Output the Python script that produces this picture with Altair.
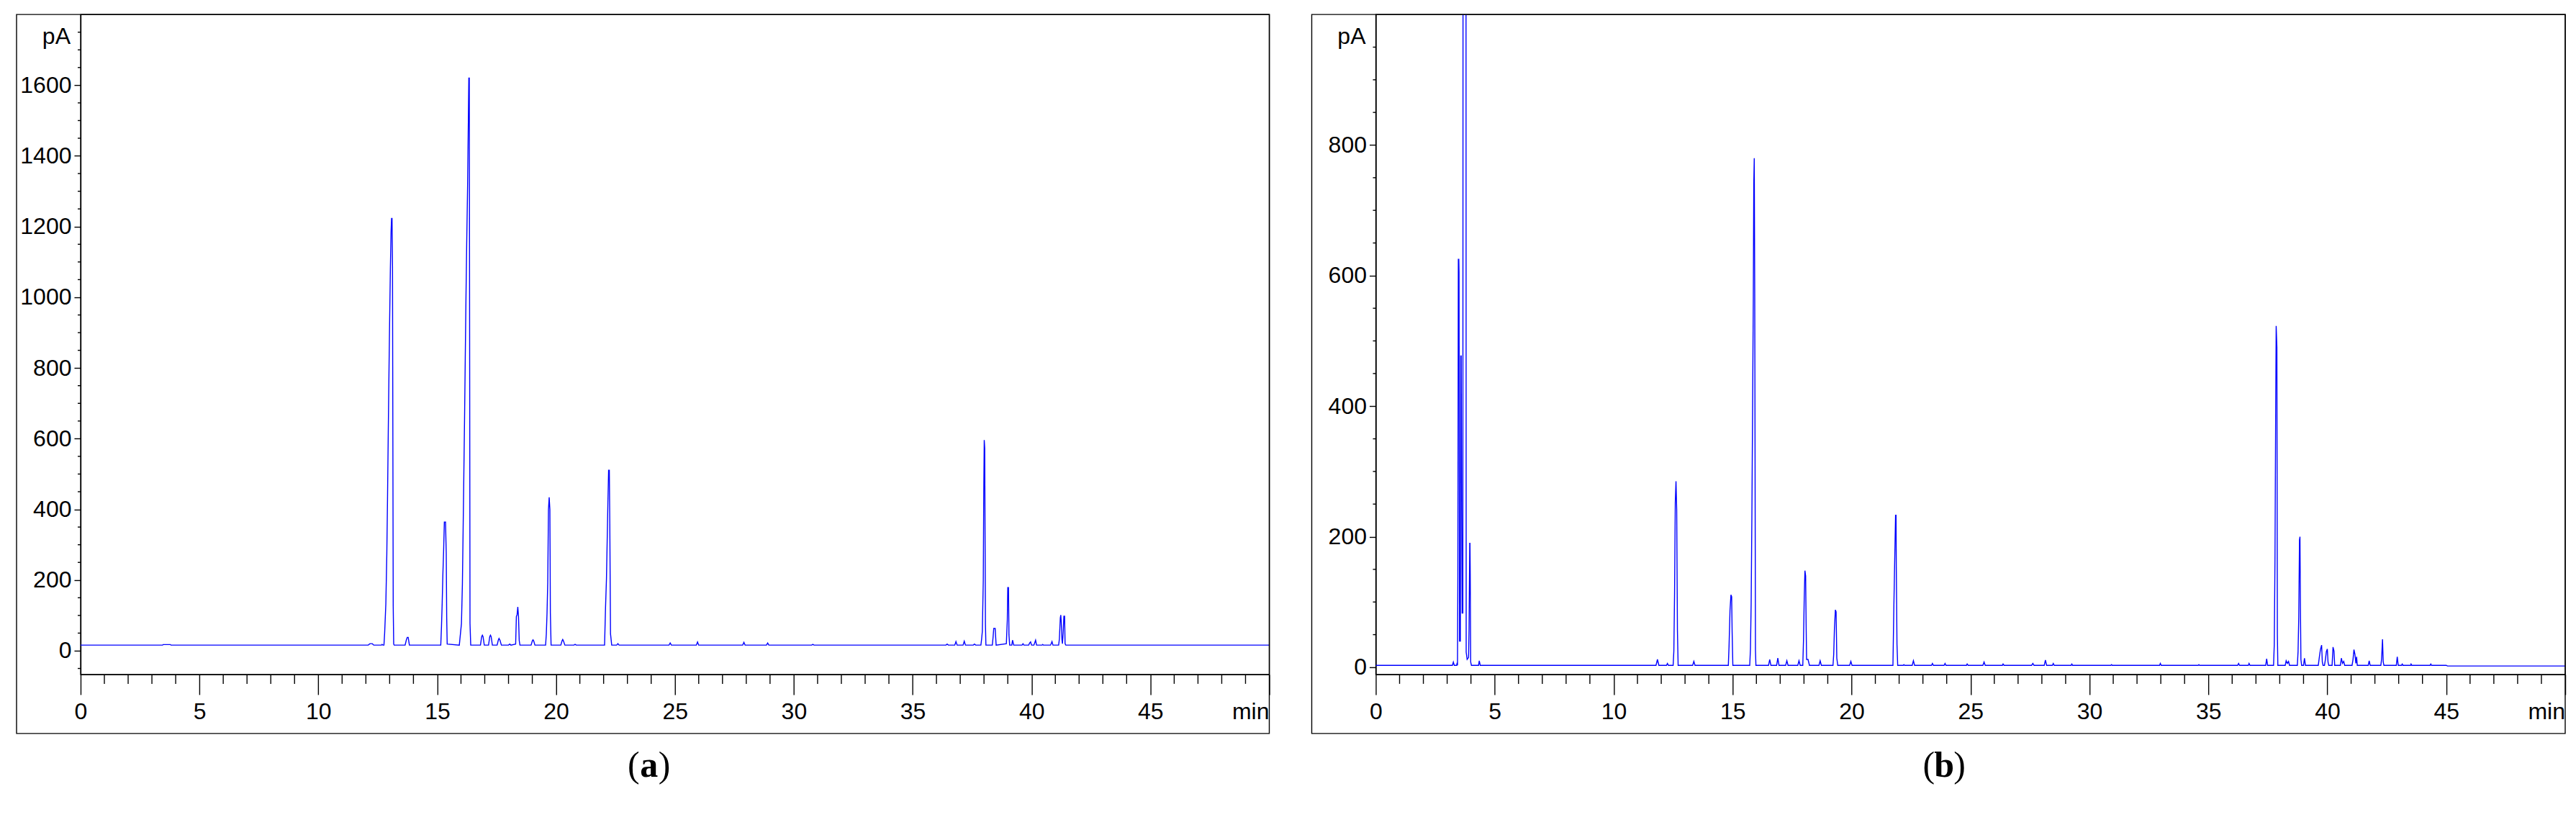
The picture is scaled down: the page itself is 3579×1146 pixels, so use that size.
import altair as alt
import pandas as pd

# ---- chromatogram (a): (retention time [min], signal [pA]) vertices
trace_a = [
    (0, 16), (3.45, 16), (3.47, 17.5), (3.78, 17.5), (3.80, 16),
    (12.10, 16), (12.17, 20), (12.27, 20), (12.33, 16),
    (12.65, 16), (12.68, 18), (12.72, 16),
    (12.76, 16), (12.79, 51), (12.84, 133), (12.88, 272), (12.91, 428), (12.94, 608), (12.97, 780),
    (13.00, 937), (13.03, 1080), (13.06, 1187), (13.08, 1223), (13.10, 1223), (13.12, 1088),
    (13.15, 126), (13.17, 19), (13.19, 16),
    (13.65, 16), (13.70, 30), (13.74, 38), (13.78, 38), (13.83, 16),
    (15.15, 16), (15.18, 68), (15.21, 136), (15.24, 219), (15.27, 282), (15.30, 364), (15.35, 364),
    (15.38, 277), (15.40, 92), (15.42, 19),
    (15.93, 16), (16.02, 77), (16.06, 189), (16.09, 340), (16.12, 496), (16.15, 652), (16.18, 827),
    (16.21, 997), (16.24, 1148), (16.28, 1319), (16.31, 1500), (16.33, 1620), (16.35, 1620),
    (16.38, 77), (16.41, 16),
    (16.82, 16), (16.87, 40), (16.90, 44), (16.93, 40), (16.98, 16),
    (17.16, 16), (17.21, 40), (17.24, 44), (17.27, 40), (17.32, 16),
    (17.52, 16), (17.57, 30), (17.60, 35), (17.64, 30), (17.70, 16),
    (18.00, 16), (18.05, 19), (18.10, 16),
    (18.30, 19), (18.33, 97), (18.36, 102), (18.39, 124), (18.42, 97), (18.45, 29), (18.48, 16),
    (18.95, 16), (19.00, 28), (19.03, 31), (19.06, 28), (19.11, 16),
    (19.56, 16), (19.59, 48), (19.62, 107), (19.65, 194), (19.68, 399), (19.71, 434), (19.74, 399),
    (19.76, 107), (19.79, 16),
    (20.20, 16), (20.25, 28), (20.28, 32), (20.31, 28), (20.37, 16),
    (20.75, 16), (20.80, 18), (20.85, 16),
    (22.04, 16), (22.08, 121), (22.12, 204), (22.15, 311), (22.18, 418), (22.21, 511), (22.24, 511),
    (22.26, 360), (22.29, 48), (22.34, 16),
    (22.55, 16), (22.60, 20), (22.65, 16),
    (24.75, 16), (24.80, 22), (24.85, 16),
    (25.90, 16), (25.95, 25), (26.00, 16),
    (27.85, 16), (27.90, 24), (27.95, 16),
    (28.85, 16), (28.90, 22), (28.95, 16),
    (30.75, 16), (30.80, 18), (30.85, 16),
    (36.40, 16), (36.45, 19), (36.50, 16),
    (36.77, 16), (36.82, 26), (36.87, 16),
    (37.12, 16), (37.17, 27), (37.22, 16),
    (37.55, 16), (37.60, 19), (37.65, 16),
    (37.87, 16), (37.90, 33), (37.93, 55), (37.97, 200), (37.99, 448), (38.01, 596), (38.03, 573),
    (38.06, 77), (38.08, 16),
    (38.35, 16), (38.38, 37), (38.41, 63), (38.47, 63), (38.51, 16),
    (38.94, 20), (38.98, 87), (39.00, 179), (39.03, 179), (39.05, 45), (39.08, 16),
    (39.17, 16), (39.20, 30), (39.25, 16),
    (39.60, 16), (39.64, 20), (39.68, 16),
    (39.88, 16), (39.92, 22), (39.96, 25), (40.00, 16),
    (40.10, 16), (40.14, 24), (40.17, 30), (40.21, 16),
    (40.44, 16), (40.47, 18), (40.50, 16),
    (40.80, 16), (40.86, 26), (40.90, 16),
    (41.14, 16), (41.17, 33), (41.21, 93), (41.23, 101), (41.25, 80), (41.28, 30), (41.30, 20),
    (41.33, 50), (41.36, 98), (41.39, 98), (41.41, 20), (41.44, 16),
    (50, 16),
]

# ---- chromatogram (b)
trace_b = [
    (0, 3), (3.22, 3), (3.26, 8), (3.30, 3), (3.40, 3), (3.42, 7), (3.435, 3),
    (3.45, 136), (3.47, 625), (3.49, 625), (3.50, 605), (3.52, 40), (3.555, 40), (3.57, 477),
    (3.59, 477), (3.61, 240), (3.63, 83), (3.66, 83), (3.67, 1500), (3.79, 1500), (3.80, 23),
    (3.84, 12), (3.90, 15), (3.92, 57), (3.95, 190), (3.96, 190), (3.97, 146), (3.99, 8), (4.02, 3),
    (4.32, 3), (4.35, 10), (4.39, 3),
    (11.78, 3), (11.84, 12), (11.90, 3),
    (12.22, 3), (12.26, 6), (12.30, 3),
    (12.50, 3), (12.53, 25), (12.56, 114), (12.59, 252), (12.62, 285), (12.65, 241), (12.68, 57), (12.71, 3),
    (13.32, 3), (13.37, 9), (13.42, 3),
    (14.82, 3), (14.85, 32), (14.89, 87), (14.93, 111), (14.96, 108), (14.98, 54), (15.01, 3),
    (15.72, 3), (15.75, 28), (15.78, 99), (15.81, 230), (15.84, 396), (15.87, 567), (15.89, 741),
    (15.91, 780), (15.93, 573), (15.96, 27), (15.98, 3),
    (16.51, 3), (16.56, 12), (16.61, 3),
    (16.85, 3), (16.90, 14), (16.95, 3),
    (17.23, 3), (17.28, 10), (17.33, 3),
    (17.74, 3), (17.79, 10), (17.84, 3),
    (17.95, 3), (17.98, 41), (18.01, 105), (18.04, 148), (18.07, 140), (18.09, 66), (18.11, 12),
    (18.17, 12), (18.23, 3),
    (18.63, 3), (18.68, 10), (18.73, 3),
    (19.22, 3), (19.25, 20), (19.28, 59), (19.32, 88), (19.35, 85), (19.38, 14), (19.42, 3),
    (19.92, 3), (19.97, 9), (20.02, 3),
    (21.74, 3), (21.78, 96), (21.82, 175), (21.85, 233), (21.87, 233), (21.88, 156), (21.91, 35), (21.94, 3),
    (22.17, 3), (22.20, 4), (22.23, 3),
    (22.55, 3), (22.60, 10), (22.65, 3),
    (23.36, 3), (23.40, 6), (23.44, 3),
    (23.89, 3), (23.93, 6), (23.97, 3),
    (24.83, 3), (24.86, 5), (24.90, 3),
    (25.52, 3), (25.57, 8), (25.62, 3),
    (26.34, 3), (26.37, 5), (26.41, 3),
    (27.57, 3), (27.62, 6), (27.67, 3),
    (28.10, 3), (28.15, 11), (28.20, 3),
    (28.44, 3), (28.48, 6), (28.52, 3),
    (29.23, 3), (29.26, 5), (29.29, 3),
    (30.90, 3), (30.93, 4), (30.96, 3),
    (32.95, 3), (32.98, 6), (33.02, 3),
    (34.57, 3), (34.60, 4), (34.63, 3),
    (36.23, 3), (36.27, 6), (36.31, 3),
    (36.68, 3), (36.71, 6), (36.75, 3),
    (37.41, 3), (37.45, 13), (37.49, 3),
    (37.74, 3), (37.77, 35), (37.80, 165), (37.83, 398), (37.85, 523), (37.88, 490), (37.90, 51), (37.92, 3),
    (38.23, 3), (38.27, 10), (38.32, 6), (38.37, 9), (38.41, 3),
    (38.74, 3), (38.77, 24), (38.80, 77), (38.83, 195), (38.85, 200), (38.87, 91), (38.89, 12), (38.92, 3),
    (39.00, 3), (39.04, 14), (39.08, 3),
    (39.62, 3), (39.67, 17), (39.71, 27), (39.76, 34), (39.79, 8), (39.82, 3),
    (39.88, 3), (39.92, 12), (39.96, 24), (40.00, 28), (40.03, 8), (40.06, 3),
    (40.20, 3), (40.24, 31), (40.28, 25), (40.31, 3),
    (40.55, 3), (40.59, 14), (40.64, 6), (40.69, 9), (40.73, 3),
    (41.04, 3), (41.08, 12), (41.12, 27), (41.16, 20), (41.20, 6), (41.23, 16), (41.26, 3),
    (41.72, 3), (41.76, 10), (41.80, 3),
    (42.25, 3), (42.28, 12), (42.30, 27), (42.32, 43), (42.35, 8), (42.38, 3),
    (42.90, 3), (42.94, 16), (42.98, 3),
    (43.12, 3), (43.15, 5), (43.18, 3),
    (43.50, 3), (43.52, 5), (43.55, 3),
    (44.32, 3), (44.35, 5), (44.38, 3),
    (45.00, 3), (45.05, 2), (50, 2),
]

x_domain = [0, 50]
x_major = [0, 5, 10, 15, 20, 25, 30, 35, 40, 45, 50]
x_minor = [m for m in range(1, 50) if m % 5]
x_unit = "min"

y_domain_a = [-67, 1800]
y_major_a = [0, 200, 400, 600, 800, 1000, 1200, 1400, 1600]
y_minor_a = [-50] + [v for v in range(50, 1800, 50) if v % 200]

y_domain_b = [-11, 1000]
y_major_b = [0, 200, 400, 600, 800]
y_minor_b = [v for v in range(50, 1000, 50) if v % 200]
y_unit = "pA"

panel_labels = ["a", "b"]

H = 917
W_A = 1652
W_B = 1653
TICK_FONT = "Liberation Sans"
LABEL_FONT = "Liberation Serif"
BLUE = "#0000ff"
LW = 1.4
FS = 32
XPAD = 9


def panel(trace, y_dom, y_major, y_minor, label, W):
    df = pd.DataFrame(trace, columns=["t", "v"])
    xs = alt.Scale(domain=x_domain, nice=False, zero=False)
    ys = alt.Scale(domain=y_dom, nice=False, zero=False)
    one = pd.DataFrame({"k": [0]})

    x_axis = alt.Axis(
        values=x_major, format="d", tickSize=28, tickWidth=LW, tickColor="black",
        domainColor="black", domainWidth=LW, labelFont=TICK_FONT, labelFontSize=FS,
        labelColor="black", labelPadding=XPAD, labelBaseline="top",
        labelExpr="datum.value == 50 ? '' : datum.label",
        labelFlush=False, labelOverlap=False, grid=False, title="",
    )
    y_axis = alt.Axis(
        values=y_major, format="d", tickSize=9, tickWidth=LW, tickColor="black",
        domainColor="black", domainWidth=LW, labelFont=TICK_FONT, labelFontSize=FS,
        labelColor="black", labelPadding=4, labelFlush=False, labelOverlap=False,
        grid=False, title="",
    )

    line = alt.Chart(df).mark_line(color=BLUE, strokeWidth=LW, clip=True).encode(
        x=alt.X("t:Q", scale=xs, axis=x_axis),
        y=alt.Y("v:Q", scale=ys, axis=y_axis),
    )
    box = alt.Chart(one).mark_rect(filled=False, stroke="black", strokeWidth=LW).encode(
        x=alt.value(-89), x2=alt.value(W), y=alt.value(0), y2=alt.value(H + 82)
    )
    xmin = alt.Chart(pd.DataFrame({"t": x_minor})).mark_rule(color="black", strokeWidth=LW).encode(
        x=alt.X("t:Q", scale=xs, axis=x_axis), y=alt.value(H), y2=alt.value(H + 13)
    )
    ymin = alt.Chart(pd.DataFrame({"v": y_minor})).mark_rule(color="black", strokeWidth=LW).encode(
        y=alt.Y("v:Q", scale=ys, axis=y_axis), x=alt.value(-4), x2=alt.value(0)
    )
    unit_x = alt.Chart(one).mark_text(text=x_unit, font=TICK_FONT, fontSize=FS, align="right",
                                      baseline="top", color="black").encode(
        x=alt.value(W), y=alt.value(H + 28 + XPAD))
    unit_y = alt.Chart(one).mark_text(text=y_unit, font=TICK_FONT, fontSize=FS, align="right",
                                      baseline="alphabetic", color="black").encode(
        x=alt.value(-14), y=alt.value(41))
    cx = 790
    cy = H + 142
    t_mid = alt.Chart(one).mark_text(text=label, font=LABEL_FONT, fontSize=50, fontWeight="bold",
                                     align="center", baseline="alphabetic", color="black").encode(
        x=alt.value(cx), y=alt.value(cy))
    t_l = alt.Chart(one).mark_text(text="(", font=LABEL_FONT, fontSize=50,
                                   align="right", baseline="alphabetic", color="black").encode(
        x=alt.value(cx - 13), y=alt.value(cy))
    t_r = alt.Chart(one).mark_text(text=")", font=LABEL_FONT, fontSize=50,
                                   align="left", baseline="alphabetic", color="black").encode(
        x=alt.value(cx + 13), y=alt.value(cy))
    return alt.layer(line, box, xmin, ymin, unit_x, unit_y, t_l, t_mid, t_r).properties(width=W, height=H)


pa = panel(trace_a, y_domain_a, y_major_a, y_minor_a, panel_labels[0], W_A)
pb = panel(trace_b, y_domain_b, y_major_b, y_minor_b, panel_labels[1], W_B)

chart = alt.hconcat(pa, pb, spacing=55).properties(
    padding={"left": 13, "top": 10, "right": 5, "bottom": 5},
    background="white",
).configure_view(stroke="black", strokeWidth=LW)

chart.save("out.html", embed_options={"renderer": "svg", "actions": False})
